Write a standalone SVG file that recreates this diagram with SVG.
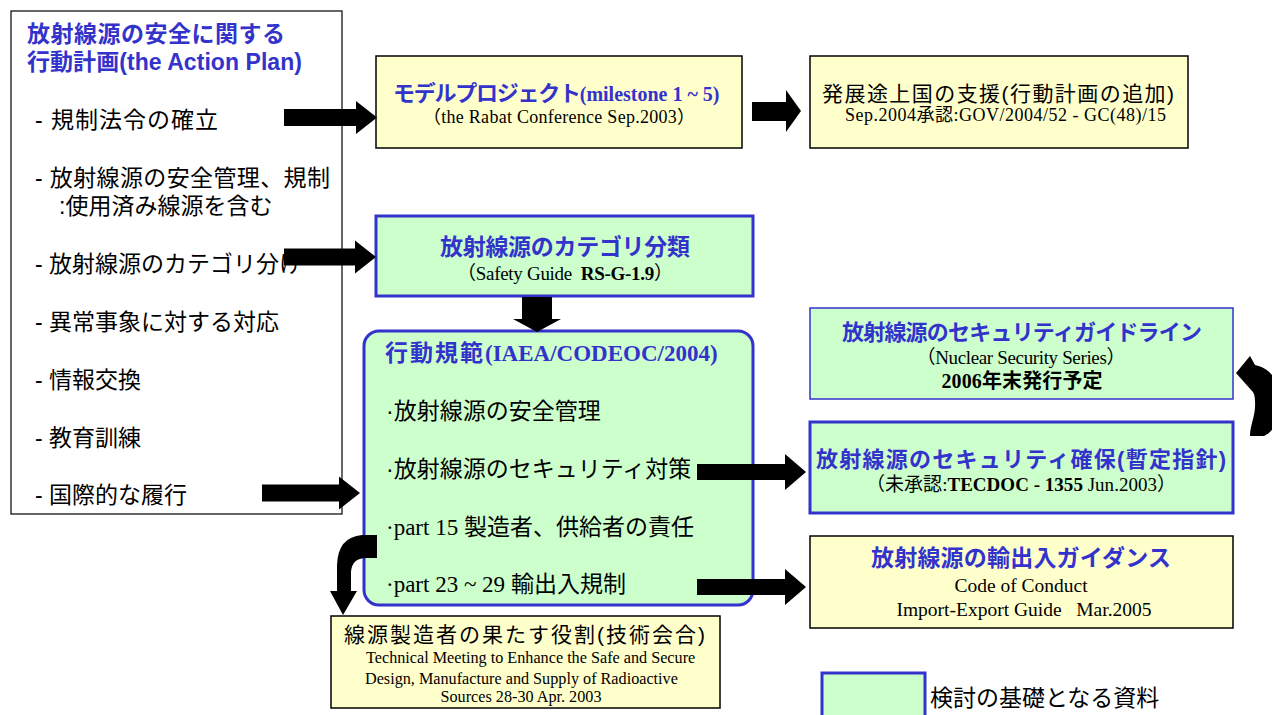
<svg xmlns="http://www.w3.org/2000/svg" width="1272" height="715" viewBox="0 0 1272 715">
<style>
.jp{font-family:"Liberation Sans","Noto Sans CJK JP",sans-serif;}
.sf{font-family:"Liberation Serif","Noto Sans CJK JP",serif;}
.bt{fill:#3333cc;font-weight:bold;}
.k{fill:#000;}
.yel{fill:#ffffcc;stroke:#000;stroke-width:1.5;}
.grn{fill:#ccffcc;stroke:#3333cc;stroke-width:3;}
.grn1{fill:#ccffcc;stroke:#3333cc;stroke-width:1.5;}
.arr{fill:#000;stroke:none;}
</style>
<rect width="1272" height="715" fill="#fff"/>

<g id="action-plan">
<rect x="11" y="11" width="331" height="503" fill="#fff" stroke="#000" stroke-width="1.2"/>
<text class="jp bt" x="27" y="42" font-size="23" textLength="258">放射線源の安全に関する</text>
<text class="jp bt" x="27" y="70" font-size="23" textLength="275">行動計画(the Action Plan)</text>
<g class="jp k" font-size="23">
<text x="35" y="128" textLength="183">- 規制法令の確立</text>
<text x="35" y="186" textLength="295">- 放射線源の安全管理、規制</text>
<text x="59" y="214">:使用済み線源を含む</text>
<text x="35" y="272">- 放射線源のカテゴリ分け</text>
<text x="35" y="330">- 異常事象に対する対応</text>
<text x="35" y="388">- 情報交換</text>
<text x="35" y="446">- 教育訓練</text>
<text x="35" y="503">- 国際的な履行</text>
</g>
</g>

<g id="model-project">
<rect class="yel" x="376" y="56" width="366" height="92"/>
<text x="393" y="101" class="bt"><tspan class="jp" font-size="22" textLength="188">モデルプロジェクト</tspan><tspan class="sf" font-size="20">(milestone 1 ~ 5)</tspan></text>
<text class="sf k" x="559" y="123" font-size="18" text-anchor="middle" textLength="272">（the Rabat Conference Sep.2003）</text>
</g>

<g id="developing">
<rect class="yel" x="810" y="56" width="378" height="92"/>
<text class="jp k" x="822" y="101" font-size="21" textLength="352">発展途上国の支援(行動計画の追加)</text>
<text class="sf k" x="845" y="121" font-size="18" textLength="321">Sep.2004承認:GOV/2004/52 - GC(48)/15</text>
</g>

<g id="category">
<rect class="grn" x="376" y="216" width="377" height="80"/>
<text class="jp bt" x="565" y="255" font-size="23" text-anchor="middle" textLength="250">放射線源のカテゴリ分類</text>
<text class="sf k" x="565" y="280" font-size="19" text-anchor="middle" textLength="216" xml:space="preserve">（Safety Guide  <tspan font-weight="bold">RS-G-1.9</tspan>）</text>
</g>

<g id="code-of-conduct">
<rect class="grn" x="364" y="331" width="389" height="274" rx="15"/>
<text x="385" y="361" class="bt"><tspan class="jp" font-size="23" textLength="98">行動規範</tspan><tspan class="sf" font-size="23">(IAEA/CODEOC/2004)</tspan></text>
<g class="k" font-size="23">
<text class="jp" x="386" y="419">·放射線源の安全管理</text>
<text class="jp" x="386" y="477">·放射線源のセキュリティ対策</text>
<text class="sf" x="386" y="535">·part 15 <tspan class="jp">製造者、供給者の責任</tspan></text>
<text class="sf" x="386" y="592">·part 23 ~ 29 <tspan class="jp">輸出入規制</tspan></text>
</g>
</g>

<g id="security-guideline">
<rect class="grn1" x="810" y="308" width="423" height="91"/>
<text class="jp bt" x="1022" y="340" font-size="22" text-anchor="middle" textLength="360">放射線源のセキュリティガイドライン</text>
<text class="sf k" x="1021" y="364" font-size="19" text-anchor="middle" textLength="209">（Nuclear Security Series）</text>
<text class="sf k" x="1022" y="388" font-size="20" font-weight="bold" text-anchor="middle" textLength="161">2006年末発行予定</text>
</g>

<g id="security-ensure">
<rect class="grn" x="810" y="422" width="423" height="91"/>
<text class="jp bt" x="1021" y="467" font-size="22" text-anchor="middle" textLength="410">放射線源のセキュリティ確保(暫定指針)</text>
<text class="sf k" x="1021" y="491" font-size="19" text-anchor="middle" textLength="310">（未承認:<tspan font-weight="bold">TECDOC - 1355</tspan> Jun.2003）</text>
</g>

<g id="export-guidance">
<rect class="yel" x="810" y="536" width="423" height="92"/>
<text class="jp bt" x="1021" y="566" font-size="23" text-anchor="middle" textLength="300">放射線源の輸出入ガイダンス</text>
<text class="sf k" x="1021" y="592" font-size="19.5" text-anchor="middle">Code of Conduct</text>
<text class="sf k" x="1024" y="616" font-size="19.5" text-anchor="middle" xml:space="preserve">Import-Export Guide   Mar.2005</text>
</g>

<g id="manufacturer">
<rect class="yel" x="331" y="616" width="389" height="92"/>
<text class="jp k" x="344" y="642" font-size="21" textLength="361">線源製造者の果たす役割(技術会合)</text>
<text class="sf k" x="366" y="663" font-size="16.2">Technical Meeting to Enhance the Safe and Secure</text>
<text class="sf k" x="365" y="684" font-size="16.2">Design, Manufacture and Supply of Radioactive</text>
<text class="sf k" x="521" y="702" font-size="16.2" text-anchor="middle">Sources 28-30 Apr. 2003</text>
</g>

<g id="legend">
<rect class="grn" x="822" y="673" width="103" height="50"/>
<text class="jp k" x="930" y="706" font-size="23">検討の基礎となる資料</text>
</g>

<g id="connectors">
<polygon class="arr" points="284,109 356,109 356,101 377,117.5 356,134 356,126 284,126"/>
<polygon class="arr" points="284,248.5 355,248.5 355,240.5 376,257 355,273.5 355,265.5 284,265.5"/>
<polygon class="arr" points="262,484.5 339,484.5 339,476.5 360,493 339,509.5 339,501.5 262,501.5"/>
<polygon class="arr" points="752,102 786,102 786,90 801,111 786,132 786,121 752,121"/>
<polygon class="arr" points="697,464 785,464 785,454 806,472 785,490 785,480 697,480"/>
<polygon class="arr" points="697,579 785,579 785,569 806,587 785,605 785,595 697,595"/>
<polygon class="arr" points="522,297 552,297 552,319 561,319 537,332 513,319 522,319"/>
<path class="arr" d="M377,535 L362,535 Q338,537 337,565 L337,591 L330,591 L343,615 L357,591 L351,591 L351,572 Q352,558 366,558 L377,558 Z"/>
<path class="arr" d="M1250,436 C1250,425 1256,415 1255,402 C1255,396 1254,393 1252,391 L1236,373 L1250,356 L1255,365 C1290,372 1285,428 1264,436 Z"/>
</g>
</svg>
